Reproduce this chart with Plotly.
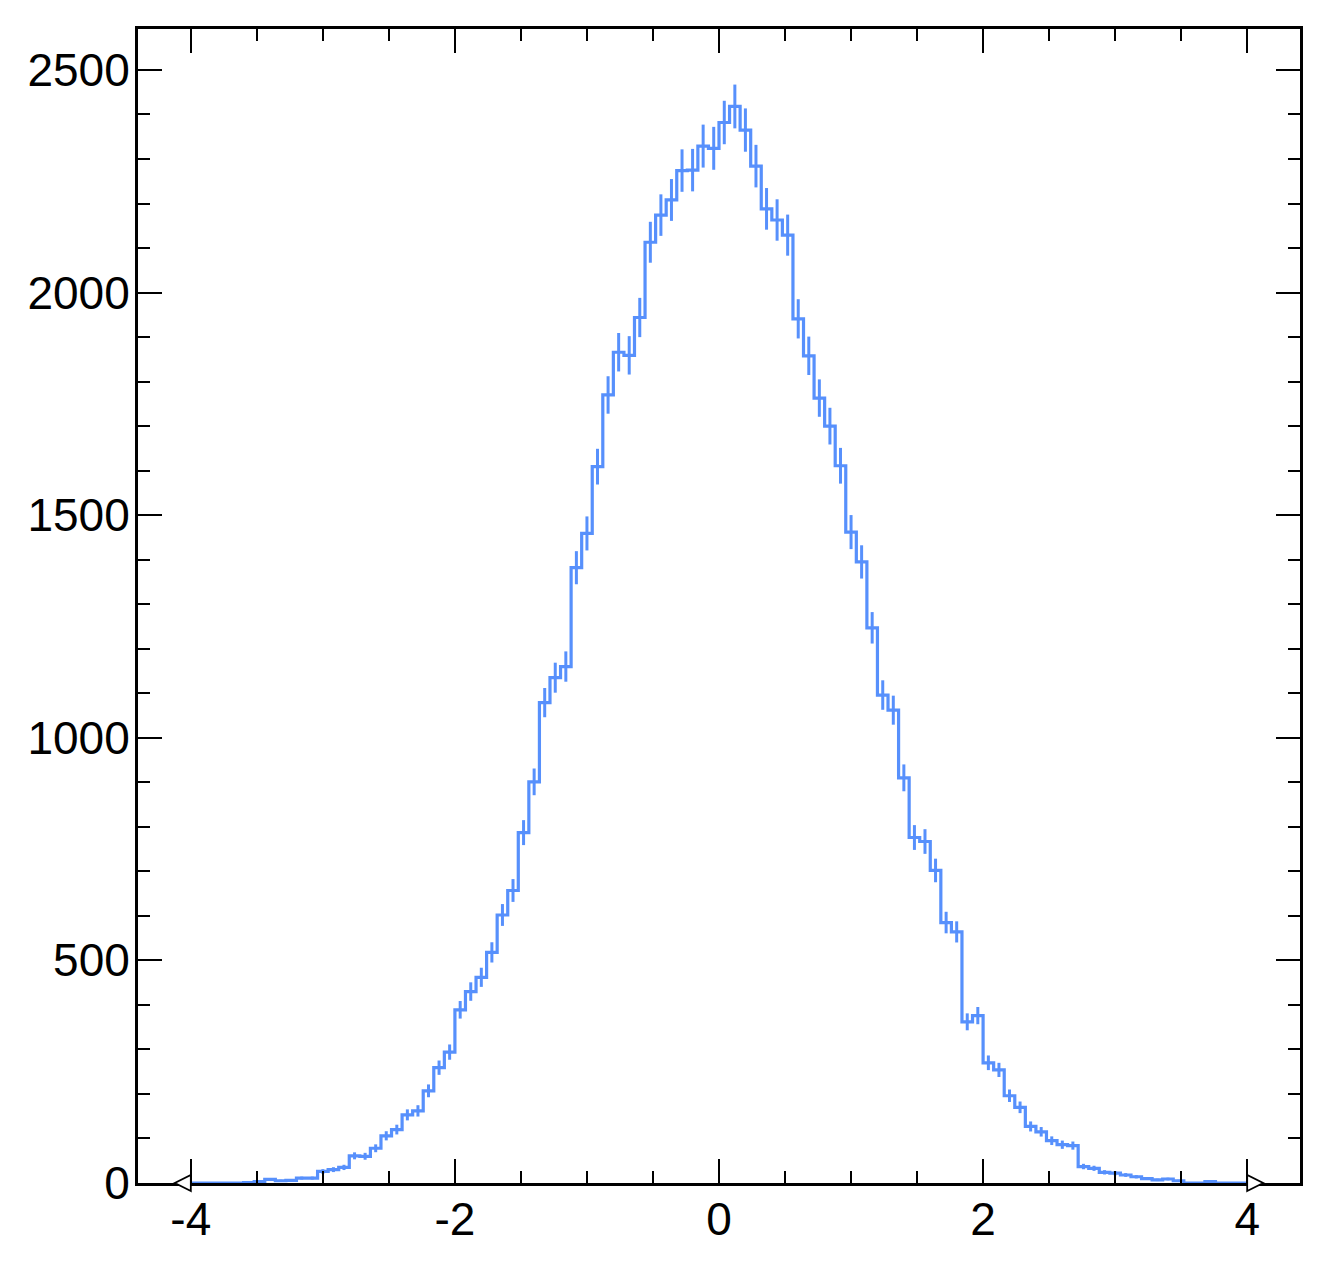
import numpy as np
import plotly.graph_objects as go

# histogram: 100 bins from -4 to 4
x_min = -4.0
x_max = 4.0
n_bins = 100

counts = [
    0, 0, 0, 0, 0, 1, 3, 8, 5, 6,
    11, 11, 26, 30, 35, 61, 60, 78, 106, 120,
    153, 162, 207, 259, 294, 389, 430, 462, 518, 602,
    657, 787, 901, 1079, 1135, 1160, 1382, 1459, 1609, 1770,
    1866, 1859, 1944, 2113, 2174, 2208, 2274, 2275, 2329, 2324,
    2382, 2418, 2365, 2284, 2188, 2163, 2129, 1941, 1858, 1763,
    1700, 1611, 1462, 1395, 1247, 1096, 1062, 910, 776, 767,
    702, 585, 564, 362, 376, 270, 254, 196, 170, 127,
    115, 95, 86, 84, 37, 33, 24, 22, 18, 14,
    10, 7, 9, 5, 0, 0, 3, 0, 0, 0,
]

x_ticks = [-4, -2, 0, 2, 4]
x_tick_labels = ["-4", "-2", "0", "2", "4"]
y_ticks = [0, 500, 1000, 1500, 2000, 2500]
y_tick_labels = ["0", "500", "1000", "1500", "2000", "2500"]

x_range = [-4.4, 4.4]
y_range = [0, 2592]

line_color = "#5790fc"

edges = np.linspace(x_min, x_max, n_bins + 1)
centers = 0.5 * (edges[:-1] + edges[1:])
errors = np.sqrt(np.array(counts, dtype=float))

fig = go.Figure()

# contorno del histograma
fig.add_trace(go.Scatter(
    x=edges,
    y=counts + [counts[-1]],
    mode="lines",
    line=dict(color=line_color, width=3.2, shape="hv"),
    hoverinfo="skip",
))

# barras de error
fig.add_trace(go.Scatter(
    x=centers,
    y=counts,
    mode="markers",
    marker=dict(size=0.1, color=line_color, opacity=0),
    error_y=dict(type="data", array=errors, width=0, thickness=3, color=line_color),
    hoverinfo="skip",
))

# flechas en los extremos del eje (en coordenadas de papel para que no se recorten)
for xa, direction in [(x_min, -1), (x_max, 1)]:
    xp = (xa - x_range[0]) / (x_range[1] - x_range[0])
    fig.add_shape(
        type="path", xref="paper", yref="paper",
        xsizemode="pixel", ysizemode="pixel",
        xanchor=xp, yanchor=0,
        path=f"M 0 -8 L {16 * direction} 0 L 0 8 Z",
        line=dict(color="black", width=1.8),
        fillcolor="white",
        layer="above",
    )

axis_font = dict(family="Liberation Sans, Arial, Helvetica, sans-serif", size=46, color="black")

fig.update_layout(
    width=1329,
    height=1272,
    margin=dict(l=130, r=37, t=21, b=97),
    paper_bgcolor="white",
    plot_bgcolor="white",
    showlegend=False,
    xaxis=dict(
        range=x_range,
        tickmode="array",
        tickvals=x_ticks,
        ticktext=x_tick_labels,
        ticks="inside",
        ticklen=24,
        tickwidth=2,
        tickcolor="black",
        minor=dict(tickmode="linear", tick0=0, dtick=0.5, ticks="inside",
                   ticklen=12, tickwidth=2, tickcolor="black", showgrid=False),
        showline=True,
        linecolor="black",
        linewidth=3,
        mirror="allticks",
        showgrid=False,
        zeroline=False,
        tickfont=axis_font,
        ticklabelstandoff=-6,
    ),
    yaxis=dict(
        range=y_range,
        tickmode="array",
        tickvals=y_ticks,
        ticktext=y_tick_labels,
        ticks="inside",
        ticklen=24,
        tickwidth=2,
        tickcolor="black",
        minor=dict(tickmode="linear", tick0=0, dtick=100, ticks="inside",
                   ticklen=12, tickwidth=2, tickcolor="black", showgrid=False),
        showline=True,
        linecolor="black",
        linewidth=3,
        mirror="allticks",
        showgrid=False,
        zeroline=False,
        tickfont=axis_font,
        ticklabelstandoff=-4,
    ),
)

fig.write_html("out.html")
